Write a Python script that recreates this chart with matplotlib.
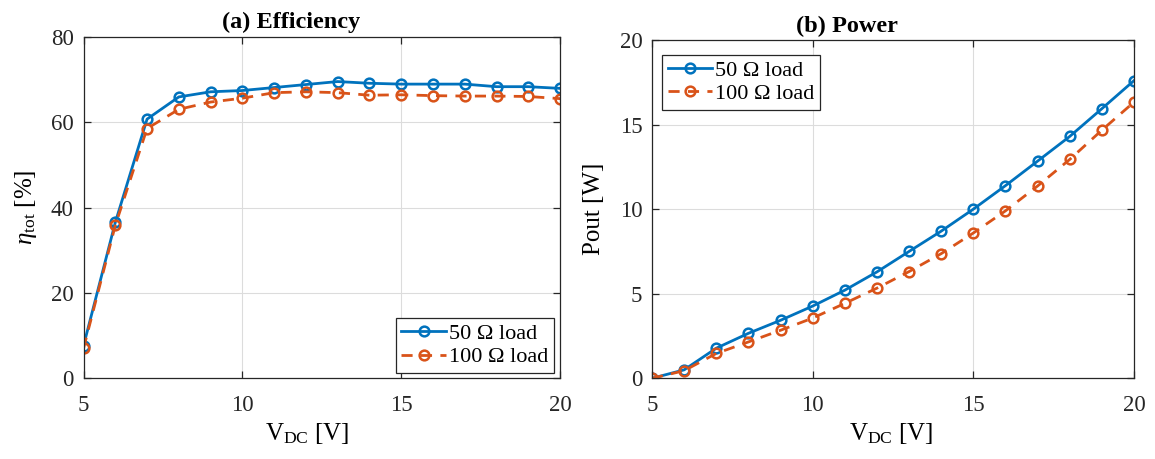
import matplotlib
matplotlib.use("Agg")
import matplotlib.pyplot as plt

plt.rcParams['font.family'] = ['Liberation Serif', 'DejaVu Serif']
plt.rcParams['mathtext.fontset'] = 'custom'
plt.rcParams['mathtext.rm'] = 'Liberation Serif'
plt.rcParams['mathtext.it'] = 'Liberation Serif:italic'
plt.rcParams['mathtext.bf'] = 'Liberation Serif:bold'

vdc = [5, 6, 7, 8, 9, 10, 11, 12, 13, 14, 15, 16, 17, 18, 19, 20]
eff_50 = [7.6, 36.5, 60.7, 65.9, 67.1, 67.4, 68.1, 68.8, 69.5, 69.1, 68.9, 68.9, 68.9, 68.3, 68.3, 67.9]
eff_100 = [7.0, 35.8, 58.5, 63.0, 64.7, 65.6, 66.9, 67.1, 66.9, 66.3, 66.4, 66.2, 66.1, 66.1, 66.0, 65.5]
pout_50 = [0.0, 0.5, 1.78, 2.66, 3.43, 4.27, 5.21, 6.29, 7.5, 8.7, 10.0, 11.39, 12.84, 14.3, 15.94, 17.6]
pout_100 = [0.0, 0.45, 1.47, 2.15, 2.84, 3.56, 4.43, 5.33, 6.31, 7.37, 8.59, 9.9, 11.37, 12.94, 14.67, 16.33]
labels = ['50 Ω load', '100 Ω load']
titles = ['(a) Efficiency', '(b) Power']

C1 = '#0072BD'
C2 = '#D95319'
TICK = 16.5
LAB = 18

fig = plt.figure(figsize=(11.55, 4.59), dpi=100)
ax1 = fig.add_axes([0.0723, 0.1758, 0.4126, 0.7442])
ax2 = fig.add_axes([0.5645, 0.1758, 0.4173, 0.7370])

def style(ax):
    ax.grid(True, color='#dcdcdc', linewidth=0.8)
    ax.set_axisbelow(True)
    for s in ax.spines.values():
        s.set_color('#262626')
        s.set_linewidth(0.9)
    ax.tick_params(direction='in', top=True, right=True, length=5, width=0.9,
                   labelsize=TICK, colors='#262626')
    ax.tick_params(axis='x', pad=12)
    ax.tick_params(axis='y', pad=7)

for ax, y1, y2, title, tx in [(ax1, eff_50, eff_100, titles[0], 0.435),
                              (ax2, pout_50, pout_100, titles[1], 0.405)]:
    ax.plot(vdc, y1, '-', color=C1, lw=2, marker='o', ms=7, mfc='none', mew=1.8, label=labels[0])
    ax.plot(vdc, y2, '--', color=C2, lw=2, marker='o', ms=7, mfc='none', mew=1.8, label=labels[1],
            dashes=(4, 3))
    ax.set_xlim(5, 20)
    ax.set_xticks([5, 10, 15, 20])
    ax.set_title(title, fontsize=17.5, fontweight='bold', pad=6, x=tx)
    ax.set_xlabel(r'$\mathrm{V_{DC}}$ [V]', fontsize=LAB)
    style(ax)

ax1.set_ylim(0, 80)
ax1.set_yticks([0, 20, 40, 60, 80])
ax1.set_ylabel(r'$\eta_{\mathrm{tot}}$ [%]', fontsize=LAB)
ax2.set_ylim(0, 20)
ax2.set_yticks([0, 5, 10, 15, 20])
ax2.set_ylabel('Pout [W]', fontsize=LAB)

ax1.xaxis.set_label_coords(0.47, -0.125)
ax2.xaxis.set_label_coords(0.496, -0.125)
ax1.yaxis.set_label_coords(-0.094, 0.5)
ax2.yaxis.set_label_coords(-0.098, 0.5)

leg_kw = dict(fontsize=16, fancybox=False, edgecolor='#262626', framealpha=1,
              handlelength=2.0, handletextpad=0.15, borderpad=0.25, labelspacing=0.12,
              borderaxespad=0.0)
l1 = ax1.legend(loc='lower right', bbox_to_anchor=(0.987, 0.016), **leg_kw)
l2 = ax2.legend(loc='upper left', bbox_to_anchor=(0.021, 0.956), **leg_kw)
for l in (l1, l2):
    l.get_frame().set_linewidth(0.9)

fig.savefig('out.png', dpi=100)
